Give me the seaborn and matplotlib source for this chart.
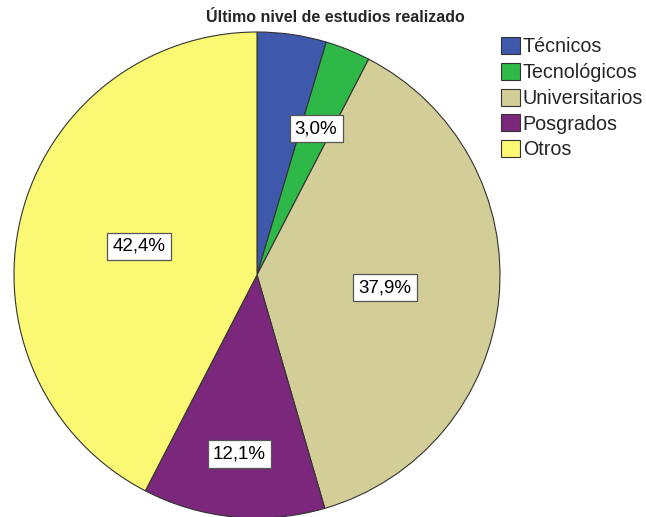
import numpy as np
import matplotlib
matplotlib.use("Agg")
import matplotlib.pyplot as plt
import seaborn as sns

sns.set_style("white")
plt.rcParams['font.family'] = ['Liberation Sans', 'DejaVu Sans']

# datos
categorias = ['Técnicos', 'Tecnológicos', 'Universitarios', 'Posgrados', 'Otros']
porcentajes = [4.6, 3.0, 37.9, 12.1, 42.4]
etiquetas = [None, '3,0%', '37,9%', '12,1%', '42,4%']
colores = ['#3E58AC', '#2EB848', '#D3CE97', '#7B277C', '#FBF873']

# distancia radial de cada etiqueta (estilo)
dist_etiqueta = [0.6, 0.65, 0.53, 0.74, 0.5]

fig = plt.figure(figsize=(6.46, 5.17), dpi=100)
ax = fig.add_axes([14 / 646, -1 / 517, 486 / 646, 486 / 517])

wedges, _ = ax.pie(porcentajes, colors=colores, startangle=90, counterclock=False,
                   radius=1, wedgeprops=dict(edgecolor='#333333', linewidth=0.8))
ax.set_xlim(-1, 1)
ax.set_ylim(-1, 1)
ax.set_aspect('equal')
ax.axis('off')

for w, lab, d in zip(wedges, etiquetas, dist_etiqueta):
    if lab is None:
        continue
    ang = np.deg2rad((w.theta1 + w.theta2) / 2)
    ax.text(d * np.cos(ang), d * np.sin(ang), lab, ha='center', va='center',
            fontsize=13.5, color='black',
            bbox=dict(boxstyle='square,pad=0.28', facecolor='white',
                      edgecolor='#555555', linewidth=0.9))

fig.text(335 / 646, 1 - 18 / 517, 'Último nivel de estudios realizado',
         ha='center', va='center', fontsize=11.5, fontweight='bold')

leg = fig.legend(wedges, categorias, loc='upper left',
                 bbox_to_anchor=(501 / 646, 1 - 37 / 517), frameon=False,
                 fontsize=14.2, handlelength=0.95, handleheight=0.95,
                 handletextpad=0.15, labelspacing=0.33, borderpad=0,
                 borderaxespad=0)

fig.savefig('out.png', dpi=100)
